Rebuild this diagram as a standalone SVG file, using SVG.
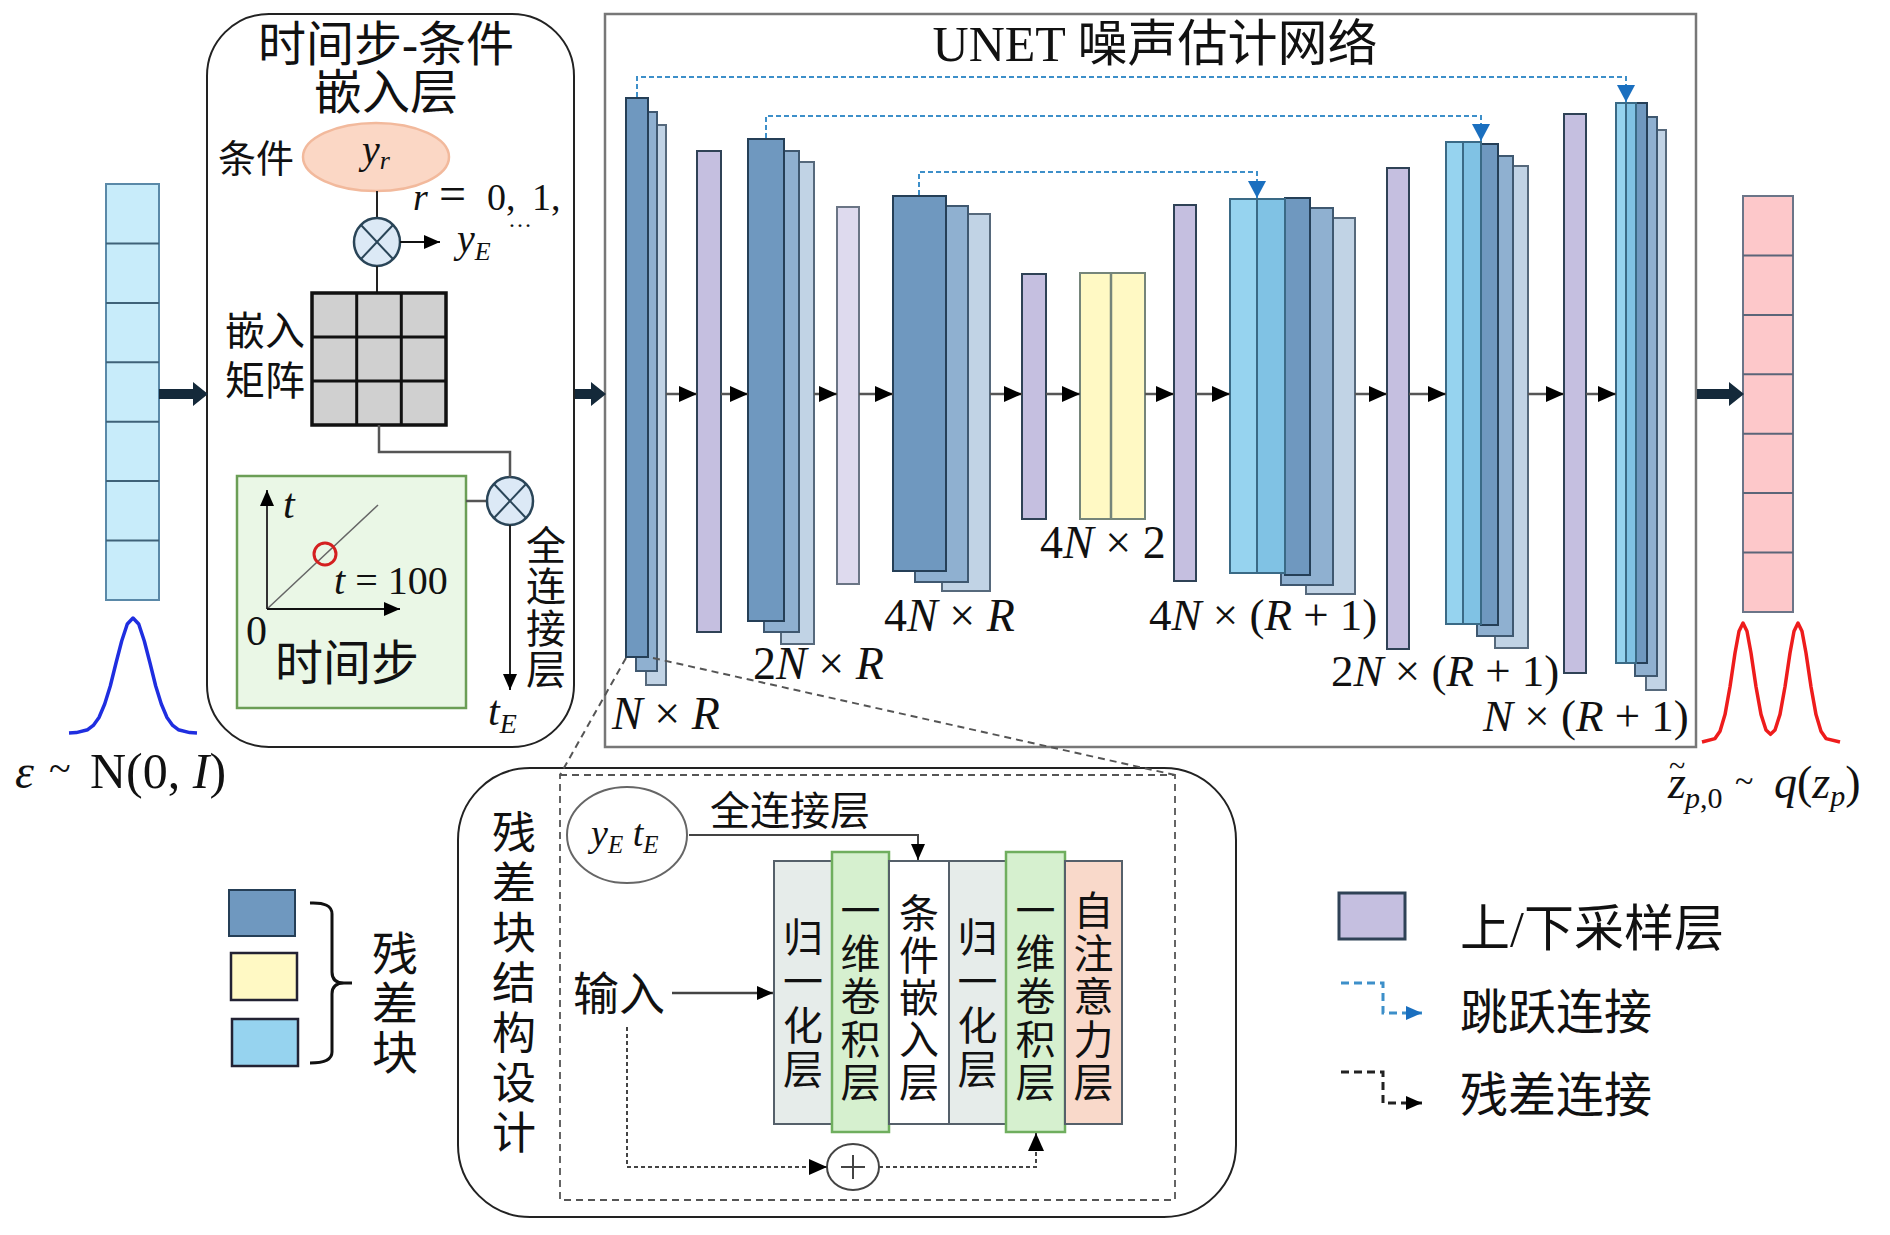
<svg xmlns="http://www.w3.org/2000/svg" width="1890" height="1235" viewBox="0 0 1890 1235">
<style>
.cjk{font-family:'Liberation Serif','Noto Sans CJK SC',serif;fill:#111}
.rm{font-family:'Liberation Serif',serif;fill:#111}
.it{font-family:'Liberation Serif',serif;font-style:italic;fill:#111}
.dk{fill:#6f98bf;stroke:#253f57;stroke-width:2}
.md{fill:#8fb0d0;stroke:#3f5870;stroke-width:2}
.lt{fill:#c1d3e5;stroke:#56697c;stroke-width:2}
.pu{fill:#c5bfe0;stroke:#2f4256;stroke-width:2}
.lp{fill:#dedaee;stroke:#6a7585;stroke-width:2}
.ye{fill:#fff9c4;stroke:#75857a;stroke-width:2}
.c1{fill:#96d3ef;stroke:#3a6a86;stroke-width:2}
.c2{fill:#80c2e4;stroke:#3a6a86;stroke-width:2}
.flow{stroke:#555;stroke-width:2.5;fill:none;marker-end:url(#ah)}
.skip{stroke:#3d8fc9;stroke-width:2;fill:none;stroke-dasharray:5 3;marker-end:url(#ahb)}
.res{stroke:#444;stroke-width:2;fill:none;stroke-dasharray:4 3;marker-end:url(#ah)}
.thin{stroke:#222;stroke-width:2;fill:none}
.gline{stroke:#555;stroke-width:2.5;fill:none}
.thick{fill:#14293a}
.otimes{fill:#dce9f6;stroke:#2a4558;stroke-width:2.5}
</style>
<defs>
<marker id="ah" markerUnits="userSpaceOnUse" markerWidth="18" markerHeight="16" refX="18" refY="8" orient="auto"><path d="M0,0 L18,8 L0,16 Z" fill="#000"/></marker>
<marker id="ahb" markerUnits="userSpaceOnUse" markerWidth="17" markerHeight="18" refX="17" refY="9" orient="auto"><path d="M0,0 L17,9 L0,18 Z" fill="#1a6fbf"/></marker>
<marker id="ahl" markerUnits="userSpaceOnUse" markerWidth="16" markerHeight="14" refX="16" refY="7" orient="auto"><path d="M0,0 L16,7 L0,14 Z" fill="#1a6fbf"/></marker>
<marker id="ahk" markerUnits="userSpaceOnUse" markerWidth="16" markerHeight="14" refX="16" refY="7" orient="auto"><path d="M0,0 L16,7 L0,14 Z" fill="#000"/></marker>
</defs>
<rect width="1890" height="1235" fill="#fff"/>

<!-- input noise vector -->
<g id="input-vector">
<rect x="106" y="184" width="53" height="416" fill="#c8ecfa" stroke="#5a89a8" stroke-width="2"/>
<g stroke="#3f6278" stroke-width="2">
<line x1="106" y1="243.4" x2="159" y2="243.4"/><line x1="106" y1="302.9" x2="159" y2="302.9"/><line x1="106" y1="362.3" x2="159" y2="362.3"/><line x1="106" y1="421.7" x2="159" y2="421.7"/><line x1="106" y1="481.1" x2="159" y2="481.1"/><line x1="106" y1="540.6" x2="159" y2="540.6"/>
</g>
<polyline points="69,733 76.3,732.6 87.7,729.7 93.3,725.4 99,717.5 104.7,704 110.3,686 116,663 121.7,641 127.3,624 133,618 138.7,624 144.3,641 150,663 155.7,686 161.3,704 167,717.5 172.7,725.4 178.3,729.7 189.7,732.6 197,733" fill="none" stroke="#1f2ee0" stroke-width="3.5" stroke-linejoin="round"/>
<text class="it" x="15" y="788" font-size="48">ε</text>
<text class="rm" x="49" y="782" font-size="40">~</text>
<text class="rm" x="90" y="788" font-size="50">N(0, <tspan font-style="italic">I</tspan>)</text>
</g>

<!-- embedding panel -->
<g id="embedding-panel">
<rect x="207" y="14" width="367" height="733" rx="62" fill="none" stroke="#222" stroke-width="2"/>
<text class="cjk" x="386" y="61" font-size="48" text-anchor="middle">时间步-条件</text>
<text class="cjk" x="386" y="109" font-size="48" text-anchor="middle">嵌入层</text>
<text class="cjk" x="218" y="172" font-size="38">条件</text>
<ellipse cx="376" cy="157" rx="73" ry="34" fill="#fbd7c5" stroke="#f2b99c" stroke-width="2.5"/>
<text class="it" x="362" y="163" font-size="40">y<tspan font-size="26" dy="6">r</tspan></text>
<text class="it" x="413" y="210" font-size="38">r</text>
<text class="rm" x="439" y="210" font-size="48">=</text>
<text class="rm" x="487" y="210" font-size="38">0,</text>
<text class="rm" x="532" y="210" font-size="38">1,</text>
<text class="rm" x="508" y="227" font-size="24">…</text>
<line class="thin" x1="377" y1="191" x2="377" y2="218"/>
<g id="otimes-1">
<ellipse class="otimes" cx="377" cy="242" rx="23" ry="24"/>
<line x1="361" y1="225" x2="393" y2="259" stroke="#2a4558" stroke-width="2"/>
<line x1="393" y1="225" x2="361" y2="259" stroke="#2a4558" stroke-width="2"/>
</g>
<text class="it" x="457" y="252" font-size="40">y<tspan font-size="26" dy="8">E</tspan></text>
<line class="thin" x1="377" y1="266" x2="377" y2="293"/>
<g id="embed-matrix">
<rect x="312" y="293" width="134" height="132" fill="#d0d0d0" stroke="#111" stroke-width="3.5"/>
<g stroke="#111" stroke-width="3">
<line x1="356.7" y1="293" x2="356.7" y2="425"/><line x1="401.3" y1="293" x2="401.3" y2="425"/>
<line x1="312" y1="337" x2="446" y2="337"/><line x1="312" y1="381" x2="446" y2="381"/>
</g>
</g>
<text class="cjk" x="225" y="345" font-size="40">嵌入</text>
<text class="cjk" x="225" y="395" font-size="40">矩阵</text>
<g id="timestep-box">
<rect x="237" y="476" width="229" height="232" fill="#eaf7e6" stroke="#6b9e56" stroke-width="2.5"/>
<line x1="267" y1="609" x2="378" y2="505" stroke="#666" stroke-width="1.5"/>
<circle cx="325" cy="554" r="11" fill="none" stroke="#d42020" stroke-width="3"/>
<line x1="267" y1="609" x2="267" y2="490" stroke="#333" stroke-width="2" marker-end="url(#ahk)"/>
<line x1="267" y1="609" x2="400" y2="609" stroke="#111" stroke-width="2" marker-end="url(#ahk)"/>
<text class="it" x="283" y="518" font-size="42">t</text>
<text class="it" x="334" y="594" font-size="40">t<tspan font-style="normal"> = 100</tspan></text>
<text class="rm" x="246" y="645" font-size="42">0</text>
<text class="cjk" x="275" y="680" font-size="48">时间步</text>
</g>
<line class="gline" x1="466" y1="501" x2="487" y2="501"/>
<g id="otimes-2">
<ellipse class="otimes" cx="510" cy="501" rx="23" ry="24"/>
<line x1="494" y1="484" x2="526" y2="518" stroke="#2a4558" stroke-width="2"/>
<line x1="526" y1="484" x2="494" y2="518" stroke="#2a4558" stroke-width="2"/>
</g>
<text class="it" x="488" y="725" font-size="42">t<tspan font-size="28" dy="8">E</tspan></text>
<g class="cjk" font-size="40" text-anchor="middle">
<text x="546" y="560">全</text><text x="546" y="601">连</text><text x="546" y="643">接</text><text x="546" y="684">层</text>
</g>
</g>

<!-- UNET box -->
<g id="unet-box">
<rect x="605" y="14" width="1091" height="733" fill="none" stroke="#777" stroke-width="2.5"/>
<text class="cjk" x="1155" y="61" font-size="50" text-anchor="middle">UNET 噪声估计网络</text>
</g>

<g id="enc-1">
<rect class="lt" x="646" y="125" width="20" height="560"/>
<rect class="md" x="636" y="112" width="21" height="559"/>
<rect class="dk" x="626" y="98" width="22" height="559"/>
</g>
<g id="down-1"><rect class="pu" x="697" y="151" width="24" height="481"/></g>
<g id="enc-2">
<rect class="lt" x="781" y="162" width="33" height="482"/>
<rect class="md" x="764" y="151" width="35" height="481"/>
<rect class="dk" x="748" y="139" width="36" height="482"/>
</g>
<g id="down-2"><rect class="lp" x="837" y="207" width="22" height="377"/></g>
<g id="enc-3">
<rect class="lt" x="942" y="214" width="48" height="377"/>
<rect class="md" x="915" y="206" width="53" height="376"/>
<rect class="dk" x="893" y="196" width="53" height="375"/>
</g>
<g id="down-3"><rect class="pu" x="1022" y="274" width="24" height="245"/></g>
<g id="mid-block">
<rect class="ye" x="1080" y="273" width="65" height="246"/>
<line x1="1111" y1="273" x2="1111" y2="519" stroke="#75857a" stroke-width="2.5"/>
</g>
<g id="up-1"><rect class="pu" x="1174" y="205" width="22" height="376"/></g>
<g id="dec-1">
<rect class="lt" x="1306" y="218" width="49" height="376"/>
<rect class="md" x="1281" y="208" width="52" height="377"/>
<rect class="dk" x="1285" y="198" width="25" height="377"/>
<rect class="c2" x="1257" y="199" width="28" height="374"/>
<rect class="c1" x="1230" y="199" width="27" height="374"/>
</g>
<g id="up-2"><rect class="pu" x="1387" y="168" width="22" height="481"/></g>
<g id="dec-2">
<rect class="lt" x="1495" y="166" width="33" height="482"/>
<rect class="md" x="1477" y="156" width="36" height="480"/>
<rect class="dk" x="1481" y="144" width="17" height="481"/>
<rect class="c2" x="1463" y="142" width="18" height="482"/>
<rect class="c1" x="1446" y="142" width="17" height="482"/>
</g>
<g id="up-3"><rect class="pu" x="1564" y="114" width="22" height="559"/></g>
<g id="dec-3">
<rect class="lt" x="1646" y="130" width="20" height="560"/>
<rect class="md" x="1635" y="117" width="22" height="559"/>
<rect class="dk" x="1636" y="103" width="11" height="560"/>
<rect class="c2" x="1626" y="103" width="10" height="560"/>
<rect class="c1" x="1616" y="103" width="10" height="560"/>
</g>

<g id="dim-labels" font-size="46">
<text class="it" x="612" y="729">N<tspan font-style="normal"> × </tspan>R</text>
<text class="it" x="753" y="679"><tspan font-style="normal">2</tspan>N<tspan font-style="normal"> × </tspan>R</text>
<text class="it" x="884" y="631"><tspan font-style="normal">4</tspan>N<tspan font-style="normal"> × </tspan>R</text>
<text class="it" x="1040" y="558"><tspan font-style="normal">4</tspan>N<tspan font-style="normal"> × 2</tspan></text>
<text class="it" x="1149" y="630" font-size="45"><tspan font-style="normal">4</tspan>N<tspan font-style="normal"> × (</tspan>R<tspan font-style="normal"> + 1)</tspan></text>
<text class="it" x="1331" y="686" font-size="45"><tspan font-style="normal">2</tspan>N<tspan font-style="normal"> × (</tspan>R<tspan font-style="normal"> + 1)</tspan></text>
<text class="it" x="1483" y="731" font-size="45">N<tspan font-style="normal"> × (</tspan>R<tspan font-style="normal"> + 1)</tspan></text>
</g>

<!-- output -->
<g id="output-vector">
<rect x="1743" y="196" width="50" height="416" fill="#fdc8ca" stroke="#6b7588" stroke-width="2"/>
<g stroke="#5b6578" stroke-width="2">
<line x1="1743" y1="255.4" x2="1793" y2="255.4"/><line x1="1743" y1="314.9" x2="1793" y2="314.9"/><line x1="1743" y1="374.3" x2="1793" y2="374.3"/><line x1="1743" y1="433.7" x2="1793" y2="433.7"/><line x1="1743" y1="493.1" x2="1793" y2="493.1"/><line x1="1743" y1="552.6" x2="1793" y2="552.6"/>
</g>
<polyline points="1702,742 1715,738.6 1720,731.2 1725,714.6 1730,686.7 1735,653 1739,631.3 1743,623 1747,631.3 1751,653 1756,686.7 1761,714.4 1766,730 1770.5,734.3 1775,730 1780,714.4 1785,686.7 1790,653 1794,631.3 1798,623 1802,631.3 1806,653 1811,686.7 1816,714.6 1821,731.2 1826,738.6 1840,742" fill="none" stroke="#ee1c1c" stroke-width="3.5" stroke-linejoin="round"/>
<text class="it" x="1668" y="798" font-size="46">z</text>
<text class="rm" x="1669" y="776" font-size="30">~</text>
<text class="it" x="1685" y="808" font-size="30">p<tspan font-style="normal">,0</tspan></text>
<text class="rm" x="1735" y="792" font-size="34">~</text>
<text class="it" x="1774" y="798" font-size="46">q<tspan font-style="normal">(</tspan>z<tspan font-size="30" dy="8">p</tspan><tspan font-style="normal" dy="-8">)</tspan></text>
</g>

<!-- residual block detail -->
<g id="resblock-panel">
<rect x="458" y="768" width="778" height="449" rx="72" fill="none" stroke="#222" stroke-width="2"/>
<rect x="560" y="775" width="615" height="425" fill="none" stroke="#555" stroke-width="1.8" stroke-dasharray="7 5"/>
<g class="cjk" font-size="44" text-anchor="middle">
<text x="514" y="849">残</text><text x="514" y="899">差</text><text x="514" y="949">块</text><text x="514" y="999">结</text><text x="514" y="1049">构</text><text x="514" y="1099">设</text><text x="514" y="1149">计</text>
</g>
<g id="cond-input">
<ellipse cx="627" cy="835" rx="60" ry="48" fill="#fff" stroke="#666" stroke-width="2"/>
<text class="it" x="591" y="846" font-size="38">y<tspan font-size="25" dy="7">E</tspan><tspan dy="-7"> t</tspan><tspan font-size="25" dy="7">E</tspan></text>
</g>
<text class="cjk" x="710" y="825" font-size="40">全连接层</text>
<text class="cjk" x="573" y="1010" font-size="46">输入</text>
<g id="layer-norm-1"><rect x="774" y="861" width="58" height="263" fill="#e6ecea" stroke="#55606a" stroke-width="2"/>
<g class="cjk" font-size="40" text-anchor="middle"><text x="803" y="952">归</text><text x="803" y="996">一</text><text x="803" y="1040">化</text><text x="803" y="1084">层</text></g></g>
<g id="layer-conv-1"><rect x="832" y="852" width="57" height="280" fill="#d6f0cf" stroke="#6fae5e" stroke-width="2.5"/>
<g class="cjk" font-size="40" text-anchor="middle"><text x="860.5" y="925">一</text><text x="860.5" y="968">维</text><text x="860.5" y="1011">卷</text><text x="860.5" y="1054">积</text><text x="860.5" y="1097">层</text></g></g>
<g id="layer-cond"><rect x="889" y="861" width="60" height="263" fill="#fff" stroke="#55606a" stroke-width="2"/>
<g class="cjk" font-size="40" text-anchor="middle"><text x="919" y="928">条</text><text x="919" y="970">件</text><text x="919" y="1012">嵌</text><text x="919" y="1054">入</text><text x="919" y="1097">层</text></g></g>
<g id="layer-norm-2"><rect x="949" y="861" width="57" height="263" fill="#e6ecea" stroke="#55606a" stroke-width="2"/>
<g class="cjk" font-size="40" text-anchor="middle"><text x="977.5" y="952">归</text><text x="977.5" y="996">一</text><text x="977.5" y="1040">化</text><text x="977.5" y="1084">层</text></g></g>
<g id="layer-conv-2"><rect x="1006" y="852" width="59" height="280" fill="#d6f0cf" stroke="#6fae5e" stroke-width="2.5"/>
<g class="cjk" font-size="40" text-anchor="middle"><text x="1035.5" y="925">一</text><text x="1035.5" y="968">维</text><text x="1035.5" y="1011">卷</text><text x="1035.5" y="1054">积</text><text x="1035.5" y="1097">层</text></g></g>
<g id="layer-attn"><rect x="1065" y="861" width="57" height="263" fill="#f9d9ca" stroke="#55606a" stroke-width="2"/>
<g class="cjk" font-size="40" text-anchor="middle"><text x="1093.5" y="925">自</text><text x="1093.5" y="968">注</text><text x="1093.5" y="1011">意</text><text x="1093.5" y="1054">力</text><text x="1093.5" y="1097">层</text></g></g>
<g id="oplus">
<ellipse cx="853" cy="1167" rx="26" ry="23" fill="#fff" stroke="#444" stroke-width="2"/>
<line x1="841" y1="1167" x2="865" y2="1167" stroke="#444" stroke-width="2"/>
<line x1="853" y1="1155" x2="853" y2="1179" stroke="#444" stroke-width="2"/>
</g>
</g>

<!-- legends -->
<g id="legend-resblock">
<rect x="229" y="890" width="66" height="46" class="dk"/>
<rect x="231" y="953" width="66" height="47" fill="#fff9c4" stroke="#223" stroke-width="2.5"/>
<rect x="232" y="1019" width="66" height="47" fill="#96d3ef" stroke="#223" stroke-width="2.5"/>
<path d="M310,903 Q332,902 332,914 L332,972 Q332,983 344,983 L352,983 M344,983 Q332,983 332,994 L332,1052 Q332,1063 310,1063" fill="none" stroke="#111" stroke-width="3"/>
<g class="cjk" font-size="46" text-anchor="middle"><text x="395" y="970">残</text><text x="395" y="1020">差</text><text x="395" y="1069">块</text></g>
</g>
<g id="legend-right">
<rect x="1339" y="893" width="66" height="46" fill="#c5bfe0" stroke="#2f4256" stroke-width="3"/>
<text class="cjk" x="1460" y="946" font-size="50">上/下采样层</text>
<path d="M1341,983 L1383,983 L1383,1013 L1422,1013" fill="none" stroke="#3d8fc9" stroke-width="3" stroke-dasharray="8 5" marker-end="url(#ahl)"/>
<text class="cjk" x="1460" y="1029" font-size="48">跳跃连接</text>
<path d="M1341,1072 L1383,1072 L1383,1103 L1422,1103" fill="none" stroke="#222" stroke-width="3" stroke-dasharray="8 5" marker-end="url(#ahk)"/>
<text class="cjk" x="1460" y="1112" font-size="48">残差连接</text>
</g>

<!-- connectors -->
<g id="connectors">
<polygon class="thick" points="159,389 193,389 193,382 208,394 193,406 193,399 159,399"/>
<polygon class="thick" points="575,389 591,389 591,382 606,394 591,406 591,399 575,399"/>
<polygon class="thick" points="1697,389 1729,389 1729,382 1744,394 1729,406 1729,399 1697,399"/>
<line x1="400" y1="242" x2="440" y2="242" stroke="#111" stroke-width="2" marker-end="url(#ahk)"/>
<polyline class="gline" points="379,425 379,452 510,452 510,477"/>
<line x1="510" y1="525" x2="510" y2="690" stroke="#222" stroke-width="2" marker-end="url(#ahk)"/>
<line class="flow" x1="666" y1="394" x2="697" y2="394"/>
<line class="flow" x1="721" y1="394" x2="748" y2="394"/>
<line class="flow" x1="814" y1="394" x2="837" y2="394"/>
<line class="flow" x1="859" y1="394" x2="893" y2="394"/>
<line class="flow" x1="990" y1="394" x2="1022" y2="394"/>
<line class="flow" x1="1046" y1="394" x2="1080" y2="394"/>
<line class="flow" x1="1145" y1="394" x2="1174" y2="394"/>
<line class="flow" x1="1196" y1="394" x2="1230" y2="394"/>
<line class="flow" x1="1355" y1="394" x2="1387" y2="394"/>
<line class="flow" x1="1409" y1="394" x2="1446" y2="394"/>
<line class="flow" x1="1528" y1="394" x2="1564" y2="394"/>
<line class="flow" x1="1586" y1="394" x2="1616" y2="394"/>
<path class="skip" d="M637,97 L637,77 L1626,77 L1626,102"/>
<path class="skip" d="M766,138 L766,116 L1481,116 L1481,141"/>
<path class="skip" d="M919,195 L919,172 L1257,172 L1257,198"/>
<line x1="626" y1="658" x2="560" y2="775" stroke="#555" stroke-width="2" stroke-dasharray="7 5"/>
<line x1="653" y1="658" x2="1175" y2="775" stroke="#555" stroke-width="2" stroke-dasharray="7 5"/>
<path d="M689,835 L918,835 L918,860" fill="none" stroke="#444" stroke-width="2" marker-end="url(#ahk)"/>
<line x1="672" y1="993" x2="773" y2="993" stroke="#444" stroke-width="2.5" marker-end="url(#ahk)"/>
<path class="res" d="M627,1027 L627,1167 L827,1167"/>
<path class="res" d="M879,1167 L1036,1167 L1036,1133"/>
</g>
</svg>
